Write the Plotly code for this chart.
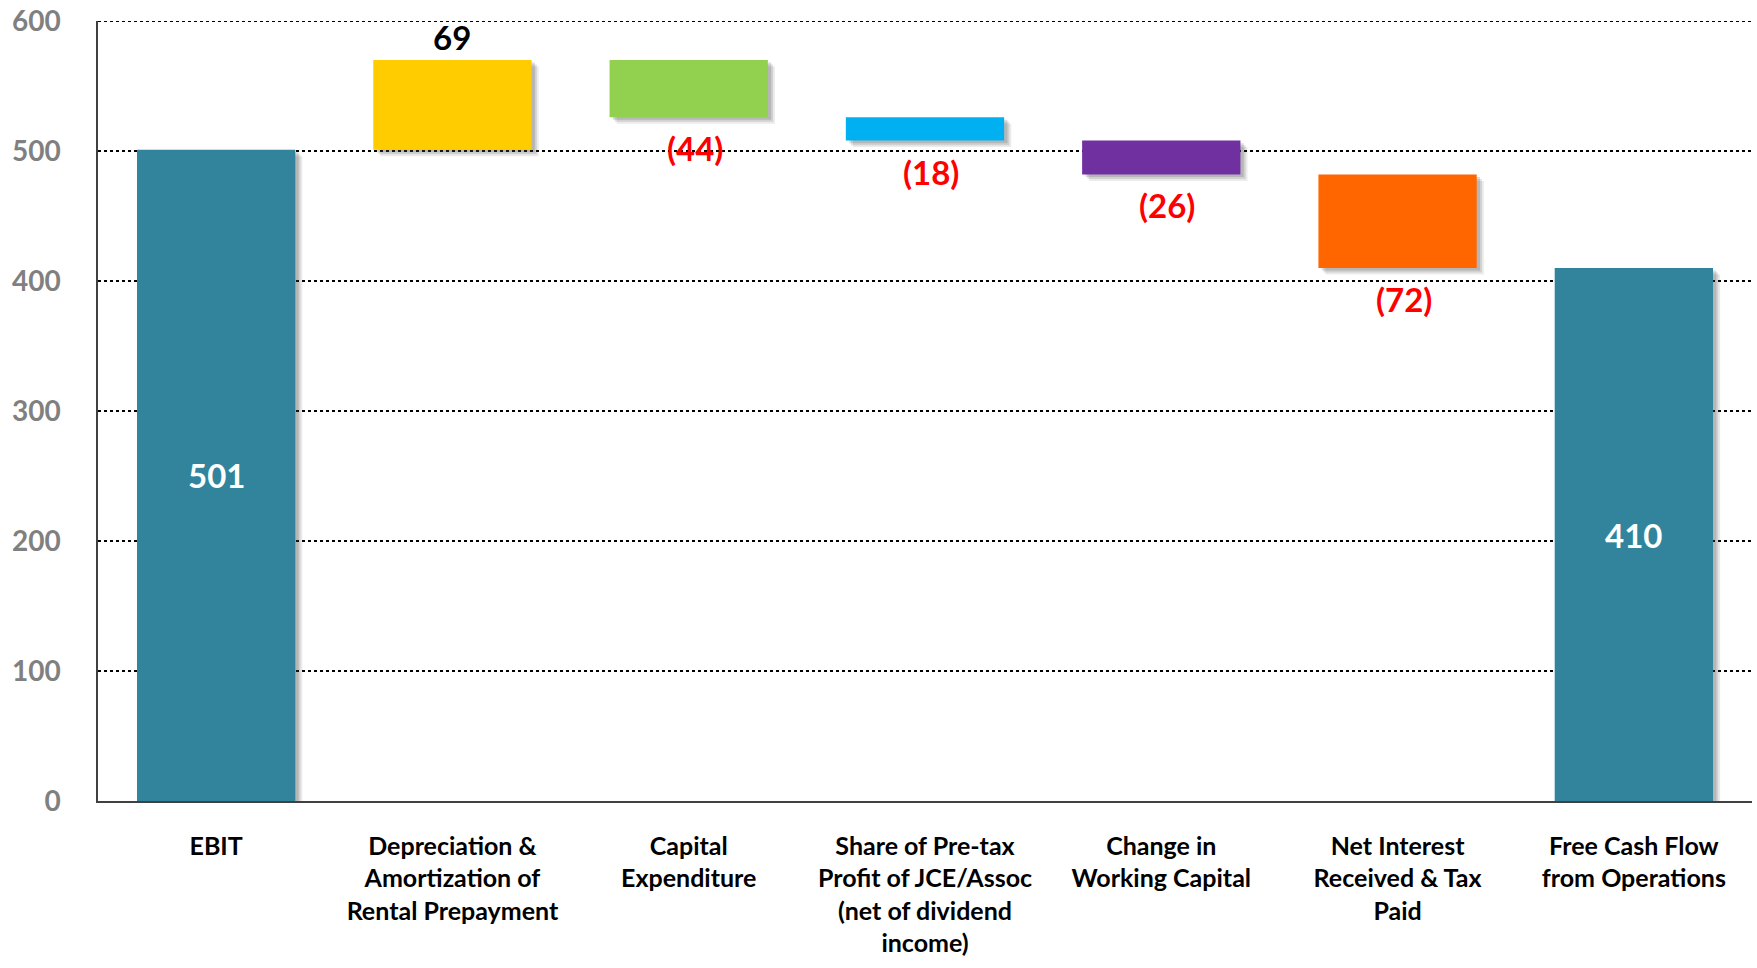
import plotly.graph_objects as go

categories = ["EBIT", "Depreciation &<br>Amortization of<br>Rental Prepayment", "Capital<br>Expenditure",
              "Share of Pre-tax<br>Profit of JCE/Assoc<br>(net of dividend<br>income)",
              "Change in<br>Working Capital", "Net Interest<br>Received & Tax<br>Paid",
              "Free Cash Flow<br>from Operations"]
changes = [501, 69, -44, -18, -26, -72]
colors = ["#31849B", "#FFCC00", "#92D050", "#00B0F0", "#7030A0", "#FF6600", "#31849B"]
labels = ["501", "69", "(44)", "(18)", "(26)", "(72)", "410"]
yticks = [0, 100, 200, 300, 400, 500, 600]

# build bases/heights from the changes
bases, heights = [], []
running = 0
for i, c in enumerate(changes):
    if i == 0:
        bases.append(0); heights.append(c); running = c
    else:
        new = running + c
        bases.append(min(running, new)); heights.append(abs(c)); running = new
bases.append(0); heights.append(running)

FONT = "Lato"
fig = go.Figure()

# soft drop shadows
for k, (dx, dy, op) in enumerate([(0.030, 5, 0.10), (0.022, 3.5, 0.14), (0.014, 2, 0.18)]):
    fig.add_trace(go.Bar(x=categories, y=heights, base=[b - dy for b in bases],
                         width=0.67, offset=-0.335 + dx,
                         marker=dict(color=f"rgba(60,60,60,{op})", line=dict(width=0)),
                         hoverinfo="skip", showlegend=False))

fig.add_trace(go.Bar(x=categories, y=heights, base=bases, width=0.67, offset=-0.335,
                     marker=dict(color=colors, line=dict(width=0)), showlegend=False))

ann = []
for i, (cat, b, h, lab) in enumerate(zip(categories, bases, heights, labels)):
    if i == 0 or i == len(categories) - 1:
        ann.append(dict(x=cat, y=b + h / 2, text=lab, showarrow=False,
                        font=dict(family=FONT, size=33, color="white", weight="bold")))
    elif changes[i] > 0:
        ann.append(dict(x=cat, y=b + h, text=lab, showarrow=False, yanchor="middle", yshift=23,
                        font=dict(family=FONT, size=33, color="black", weight="bold")))
    else:
        ann.append(dict(x=cat, y=b, text=lab, showarrow=False, yanchor="middle", yshift=-31, xshift=6,
                        font=dict(family=FONT, size=33, color="#FF0000", weight="bold")))

# top gridline (plotly drops the gridline at the plot edge)
fig.add_shape(type="line", xref="paper", x0=0, x1=1, yref="y", y0=yticks[-1], y1=yticks[-1],
              line=dict(color="black", width=1.8, dash="dot"), layer="below")

fig.update_layout(
    width=1757, height=968,
    margin=dict(l=98, r=5, t=21, b=167),
    plot_bgcolor="white", paper_bgcolor="white",
    barmode="overlay", bargap=0.33,
    annotations=ann,
    xaxis=dict(type="category", showgrid=False, showline=True, linecolor="#404040", linewidth=1.5,
               ticks="", tickfont=dict(family=FONT, size=25, color="black", weight="bold"),
               ticklabelstandoff=22, automargin=False, fixedrange=True),
    yaxis=dict(range=[0, 600], tickvals=yticks, showgrid=True, gridcolor="black", griddash="dot",
               gridwidth=1.8, zeroline=False, showline=True, linecolor="#404040", linewidth=1.5,
               ticks="", ticklabelstandoff=30, ticklabeloverflow="allow", automargin=False,
               tickfont=dict(family=FONT, size=28, color="#808080", weight="bold"), fixedrange=True),
)

fig.write_html("out.html", config={"displayModeBar": False},
               post_script="document.body.style.margin='0';document.body.style.overflow='hidden';")
